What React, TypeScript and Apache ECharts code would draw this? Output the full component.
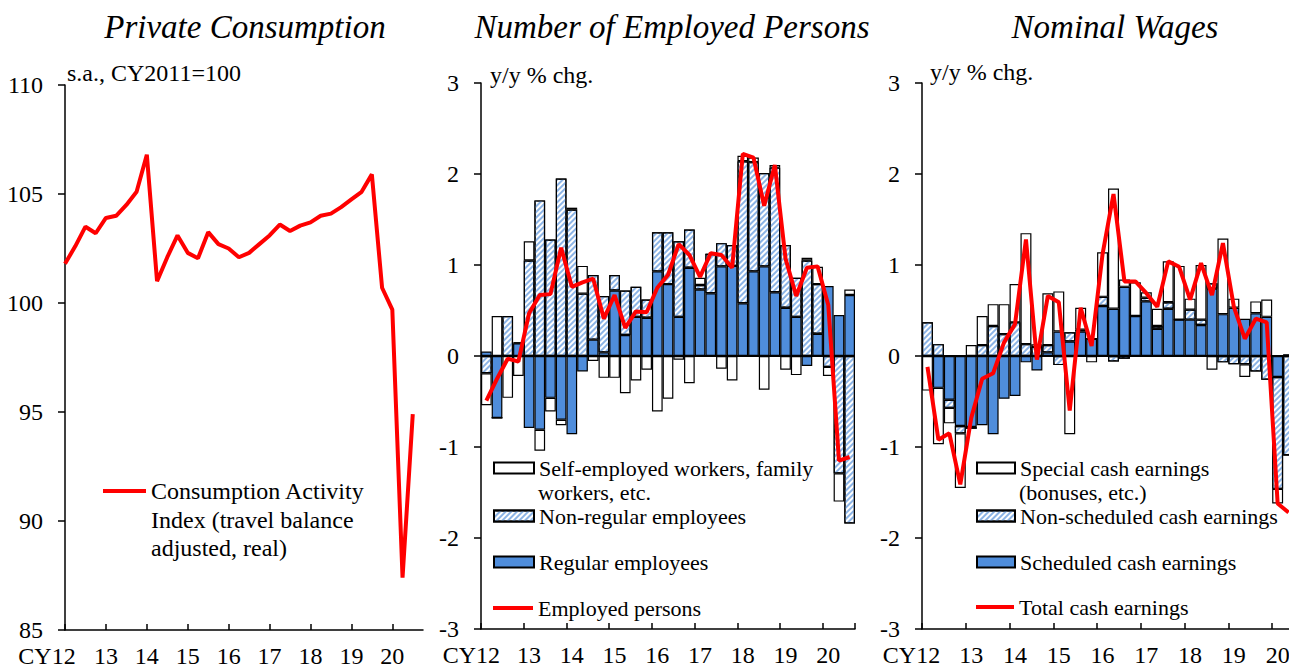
import React, { useEffect, useRef } from "react";
import * as echarts from "echarts";

// ---------- data ----------
const quartersLong = [
  "2012Q1","2012Q2","2012Q3","2012Q4","2013Q1","2013Q2","2013Q3","2013Q4",
  "2014Q1","2014Q2","2014Q3","2014Q4","2015Q1","2015Q2","2015Q3","2015Q4",
  "2016Q1","2016Q2","2016Q3","2016Q4","2017Q1","2017Q2","2017Q3","2017Q4",
  "2018Q1","2018Q2","2018Q3","2018Q4","2019Q1","2019Q2","2019Q3","2019Q4",
  "2020Q1","2020Q2","2020Q3","2020Q4",
];
const quarters = quartersLong.slice(0, 35);
const yearLabels = ["CY12", "13", "14", "15", "16", "17", "18", "19", "20"];

const consumptionIndex = [
  101.8, 102.6, 103.5, 103.2, 103.9, 104.0, 104.5, 105.1, 106.8, 101.0,
  102.1, 103.1, 102.3, 102.05, 103.25, 102.7, 102.5, 102.1, 102.3, 102.7,
  103.1, 103.6, 103.3, 103.55, 103.7, 104.0, 104.1, 104.4, 104.75, 105.1,
  105.9, 100.7, 99.7, 87.4, 94.9,
];

const regularEmp = [
  0.05, -0.68, 0, 0.14, -0.79, -0.81, -0.46, -0.7, -0.86, -0.17,
  0.18, 0.04, 0.72, 0.23, 0.43, 0.42, 0.93, 0.79, 0.43, 0.97,
  0.73, 0.69, 0.985, 0.99, 0.58, 0.93, 0.985, 0.7, 0.53, 0.43,
  -0.11, 0.245, 0.77, 0.45, 0.67,
];
const nonRegularEmp = [
  -0.19, 0, 0.44, 0.01, 1.05, 1.71, 1.28, 1.95, 1.61, 0.685,
  0.71, 0.62, 0.17, 0.49, 0.33, 0.2, 0.43, 0.57, 0.83, 0.42,
  0.05, 0.43, 0.255, 0.23, 1.56, 1.2, 1.025, 1.37, 0.69, 0.43,
  1.05, 0.545, -0.12, -1.29, -1.84,
];
const selfEmp = [
  -0.35, 0.44, -0.46, -0.22, 0.21, -0.23, -0.15, -0.06, 0.02, 0.305,
  -0.055, -0.24, -0.24, -0.41, -0.27, -0.15, -0.61, -0.47, -0.04, -0.3,
  0.08, 0, -0.14, -0.27, 0.06, 0.05, -0.37, 0.03, -0.15, -0.21,
  0.03, 0.19, -0.1, -0.31, 0.06,
];
const employedPersons = [
  -0.49, -0.25, -0.03, -0.06, 0.47, 0.67, 0.68, 1.19, 0.76, 0.81,
  0.85, 0.41, 0.67, 0.31, 0.49, 0.48, 0.75, 0.89, 1.23, 1.11,
  0.87, 1.13, 1.11, 0.97, 2.22, 2.18, 1.65, 2.1, 1.07, 0.66,
  0.97, 0.985, 0.56, -1.15, -1.11,
];

const scheduledCash = [
  0, -0.35, -0.48, -0.77, -0.78, -0.76, -0.86, -0.47, -0.44, -0.07,
  -0.16, 0.04, 0.27, 0.16, 0.27, 0.19, 0.55, 0.52, 0.76, 0.44,
  0.6, 0.3, 0.52, 0.4, 0.4, 0.34, 0.74, 0.46, 0.53, 0.41,
  0.47, 0.43, -0.23, 0.02, null,
];
const nonScheduledCash = [
  0.37, 0.13, -0.09, -0.08, -0.02, 0.12, 0.33, 0.24, 0.37, 0.13,
  0.1, 0.08, -0.1, 0.1, 0.02, 0, 0.1, -0.06, -0.03, 0,
  0.04, 0.03, 0.07, 0, 0.11, 0.06, 0.06, -0.07, -0.09, -0.09,
  -0.17, -0.26, -1.23, -1.09, null,
];
const specialCash = [
  -0.38, -0.62, -0.17, -0.6, 0.12, 0.32, 0.24, 0.33, 0.42, 1.22,
  0.03, 0.57, 0.44, -0.86, 0.24, -0.07, 0.49, 1.32, 0.08, 0.37,
  0.06, 0.19, 0.45, 0.59, 0.12, 0.6, -0.15, 0.83, 0.1, -0.14,
  0.13, 0.19, -0.16, 0, null,
];
const totalCash = [
  -0.12, -0.92, -0.85, -1.41, -0.68, -0.25, -0.19, 0.15, 0.35, 1.28,
  -0.04, 0.66, 0.59, -0.6, 0.53, 0.11, 1.12, 1.78, 0.82, 0.82,
  0.69, 0.54, 1.04, 0.98, 0.62, 1.02, 0.67, 1.24, 0.54, 0.19,
  0.41, 0.37, -1.62, -1.72, null,
];

// ---------- styles ----------
const FONT = "'Liberation Serif', 'Times New Roman', serif";
const RED = "#ff0000";
const BLUE = "#4f8ddb";
const HATCH = "#8cb4e6";
const TICK_FS = 24;
const LEG_FS = 22;

const hatchDecal = {
  symbol: "rect",
  symbolSize: 1,
  dashArrayX: [1, 0],
  dashArrayY: [2, 2],
  rotation: -Math.PI / 4,
  color: HATCH,
  backgroundColor: "#ffffff",
};

const axisLineStyle = { color: "#000", width: 1.5 };

function makeYAxis(gridIndex: number, min: number, max: number, interval: number) {
  return {
    gridIndex,
    type: "value",
    min,
    max,
    interval,
    axisLine: { show: true, lineStyle: axisLineStyle },
    axisTick: { show: true, inside: false, length: 7, lineStyle: axisLineStyle },
    axisLabel: { color: "#000", fontFamily: FONT, fontSize: TICK_FS, margin: 22 },
    splitLine: { show: false },
  };
}

function makeXAxis(gridIndex: number, data: string[], boundaryGap: boolean, cyPad: number) {
  return {
    gridIndex,
    type: "category",
    data,
    boundaryGap,
    axisLine: { show: true, onZero: false, lineStyle: axisLineStyle },
    axisTick: { show: true, inside: true, length: 6, interval: 3, lineStyle: axisLineStyle },
    axisLabel: {
      interval: 3,
      color: "#000",
      fontFamily: FONT,
      fontSize: TICK_FS,
      margin: 14,
      formatter: (_v: string, idx: number) =>
        idx === 0 ? "{cy|" + yearLabels[0] + "}" : yearLabels[idx / 4] ?? "",
      rich: {
        cy: { padding: [0, cyPad, 0, 0], fontFamily: FONT, fontSize: TICK_FS, color: "#000" },
      },
    },
    splitLine: { show: false },
  };
}

const zeroLine = {
  silent: true,
  symbol: "none",
  label: { show: false },
  lineStyle: { color: "#000", width: 2, type: "solid" },
  data: [{ yAxis: 0 }],
};

const barBase = {
  type: "bar",
  barCategoryGap: "0%",
  barGap: "0%",
  silent: true,
};

function legendItem(name: string, left: number, top: number, w: number, h: number, fs = LEG_FS) {
  return {
    data: [name],
    left,
    top,
    orient: "vertical",
    padding: 0,
    itemGap: 0,
    itemWidth: w,
    itemHeight: h,
    icon: "rect",
    selectedMode: false,
    formatter: (n: string) => n.split("\n")[0],
    textStyle: { fontFamily: FONT, fontSize: fs, color: "#000" },
  };
}

function gText(text: string, x: number, y: number, fontSize = LEG_FS, italic = false, align = "left") {
  return {
    type: "text",
    x,
    y,
    silent: true,
    style: {
      text,
      fill: "#000",
      fontFamily: FONT,
      fontSize,
      fontStyle: italic ? "italic" : "normal",
      align,
      verticalAlign: "middle",
    },
  };
}

const NAME_CONS = "Consumption Activity\nIndex (travel balance\nadjusted, real)";
const NAME_SELF = "Self-employed workers, family\nworkers, etc.";
const NAME_NONREG = "Non-regular employees";
const NAME_REG = "Regular employees";
const NAME_EMP = "Employed persons";
const NAME_SPECIAL = "Special cash earnings\n(bonuses, etc.)";
const NAME_NONSCHED = "Non-scheduled cash earnings";
const NAME_SCHED = "Scheduled cash earnings";
const NAME_TOTAL = "Total cash earnings";

export default function App() {
  const ref = useRef<HTMLDivElement>(null);

  useEffect(() => {
    document.body.style.margin = "0";
    if (!ref.current) return;
    const chart = echarts.init(ref.current, undefined, { renderer: "svg" });

    const option: any = {
      animation: false,
      backgroundColor: "#ffffff",
      textStyle: { fontFamily: FONT },
      grid: [
        { left: 65, top: 85, width: 358, height: 545, outerBoundsMode: "none" },
        { left: 481, top: 83, width: 374, height: 546, outerBoundsMode: "none" },
        { left: 922, top: 83, width: 383, height: 546, outerBoundsMode: "none" },
      ],
      xAxis: [
        makeXAxis(0, quartersLong, false, 36),
        makeXAxis(1, quarters, true, 30),
        makeXAxis(2, quarters, true, 32),
      ],
      yAxis: [makeYAxis(0, 85, 110, 5), makeYAxis(1, -3, 3, 1), makeYAxis(2, -3, 3, 1)],
      legend: [
        legendItem(NAME_CONS, 103, 479, 43, 4, 24),
        legendItem(NAME_SELF, 493, 457, 40, 11),
        legendItem(NAME_NONREG, 493, 505, 40, 11),
        legendItem(NAME_REG, 493, 551, 40, 11),
        legendItem(NAME_EMP, 493, 597, 40, 4),
        legendItem(NAME_SPECIAL, 976, 457, 38, 11),
        legendItem(NAME_NONSCHED, 976, 505, 38, 11),
        legendItem(NAME_SCHED, 976, 551, 38, 11),
        legendItem(NAME_TOTAL, 976, 596, 38, 4),
      ],
      graphic: [
        gText("Private Consumption", 245, 27, 33, true, "center"),
        gText("Number of Employed Persons", 672, 27, 33, true, "center"),
        gText("Nominal Wages", 1115, 27, 33, true, "center"),
        gText("s.a., CY2011=100", 67, 73, 24),
        gText("y/y % chg.", 490, 75, 24),
        gText("y/y % chg.", 930, 72, 24),
        gText("Index (travel balance", 151, 520, 24),
        gText("adjusted, real)", 151, 548, 24),
        gText("workers, etc.", 538, 492),
        gText("(bonuses, etc.)", 1019, 492),
      ],
      series: [
        {
          name: NAME_CONS,
          type: "line",
          xAxisIndex: 0,
          yAxisIndex: 0,
          data: consumptionIndex,
          symbol: "none",
          silent: true,
          lineStyle: { color: RED, width: 4 },
          itemStyle: { color: RED },
        },
        {
          ...barBase,
          name: NAME_REG,
          xAxisIndex: 1,
          yAxisIndex: 1,
          stack: "emp",
          data: regularEmp,
          itemStyle: { color: BLUE, borderColor: "#000", borderWidth: 1.2 },
        },
        {
          ...barBase,
          name: NAME_NONREG,
          xAxisIndex: 1,
          yAxisIndex: 1,
          stack: "emp",
          data: nonRegularEmp,
          itemStyle: { color: "#ffffff", borderColor: "#000", borderWidth: 1.2, decal: hatchDecal },
        },
        {
          ...barBase,
          name: NAME_SELF,
          xAxisIndex: 1,
          yAxisIndex: 1,
          stack: "emp",
          data: selfEmp,
          itemStyle: { color: "#ffffff", borderColor: "#000", borderWidth: 1.2 },
          markLine: zeroLine,
        },
        {
          name: NAME_EMP,
          type: "line",
          xAxisIndex: 1,
          yAxisIndex: 1,
          data: employedPersons,
          symbol: "none",
          silent: true,
          z: 5,
          lineStyle: { color: RED, width: 4 },
          itemStyle: { color: RED },
        },
        {
          ...barBase,
          name: NAME_SCHED,
          xAxisIndex: 2,
          yAxisIndex: 2,
          stack: "wage",
          data: scheduledCash,
          itemStyle: { color: BLUE, borderColor: "#000", borderWidth: 1.2 },
        },
        {
          ...barBase,
          name: NAME_NONSCHED,
          xAxisIndex: 2,
          yAxisIndex: 2,
          stack: "wage",
          data: nonScheduledCash,
          itemStyle: { color: "#ffffff", borderColor: "#000", borderWidth: 1.2, decal: hatchDecal },
        },
        {
          ...barBase,
          name: NAME_SPECIAL,
          xAxisIndex: 2,
          yAxisIndex: 2,
          stack: "wage",
          data: specialCash,
          itemStyle: { color: "#ffffff", borderColor: "#000", borderWidth: 1.2 },
          markLine: zeroLine,
        },
        {
          name: NAME_TOTAL,
          type: "line",
          xAxisIndex: 2,
          yAxisIndex: 2,
          data: totalCash,
          symbol: "none",
          silent: true,
          z: 5,
          lineStyle: { color: RED, width: 4 },
          itemStyle: { color: RED },
        },
      ],
    };

    chart.setOption(option);
    return () => chart.dispose();
  }, []);

  return <div ref={ref} style={{ width: 1289, height: 668 }} />;
}
